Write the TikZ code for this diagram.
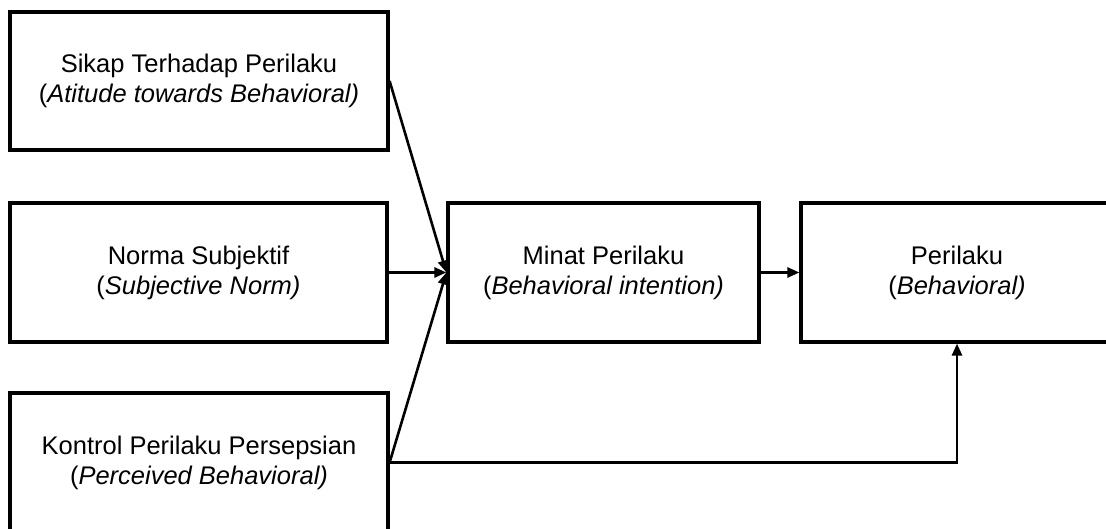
\documentclass[tikz,border=0pt]{standalone}
\usepackage{fontspec}
\setmainfont{Liberation Sans}
\usetikzlibrary{arrows.meta}
\begin{document}
\begin{tikzpicture}[x=1pt,y=-1pt,
  box/.style={draw=black,line width=3.2pt,inner sep=0pt,align=center,
    font=\fontsize{25.5}{30}\selectfont},
  conn/.style={line width=2.6pt,-{Triangle[length=12pt,width=10pt]}}]
\useasboundingbox (0,0) rectangle (1106,529);
\clip (0,0) rectangle (1106,529);
\fill[white] (0,0) rectangle (1106,529);
\node[box,minimum width=378pt,minimum height=138pt] (b1) at (199,81)
  {Sikap Terhadap Perilaku\\(\textit{Atitude towards Behavioral)}};
\node[box,minimum width=377pt,minimum height=139pt] (b2) at (198.5,272.5)
  {Norma Subjektif\\(\textit{Subjective Norm)}};
\node[box,minimum width=378pt,minimum height=139pt] (b3) at (199,462.5)
  {Kontrol Perilaku Persepsian\\(\textit{Perceived Behavioral)}};
\node[box,minimum width=311pt,minimum height=139pt] (m) at (603.5,272.5)
  {Minat Perilaku\\(\textit{Behavioral intention)}};
\node[box,minimum width=312pt,minimum height=139pt] (p) at (957,272.5)
  {Perilaku\\(\textit{Behavioral)}};
\draw[conn] (b1.east) -- (m.west);
\draw[conn] (b2.east) -- (m.west);
\draw[conn] (b3.east) -- (m.west);
\draw[conn] (m.east) -- (p.west);
\draw[conn] (b3.east) -| (p.south);
\end{tikzpicture}
\end{document}
